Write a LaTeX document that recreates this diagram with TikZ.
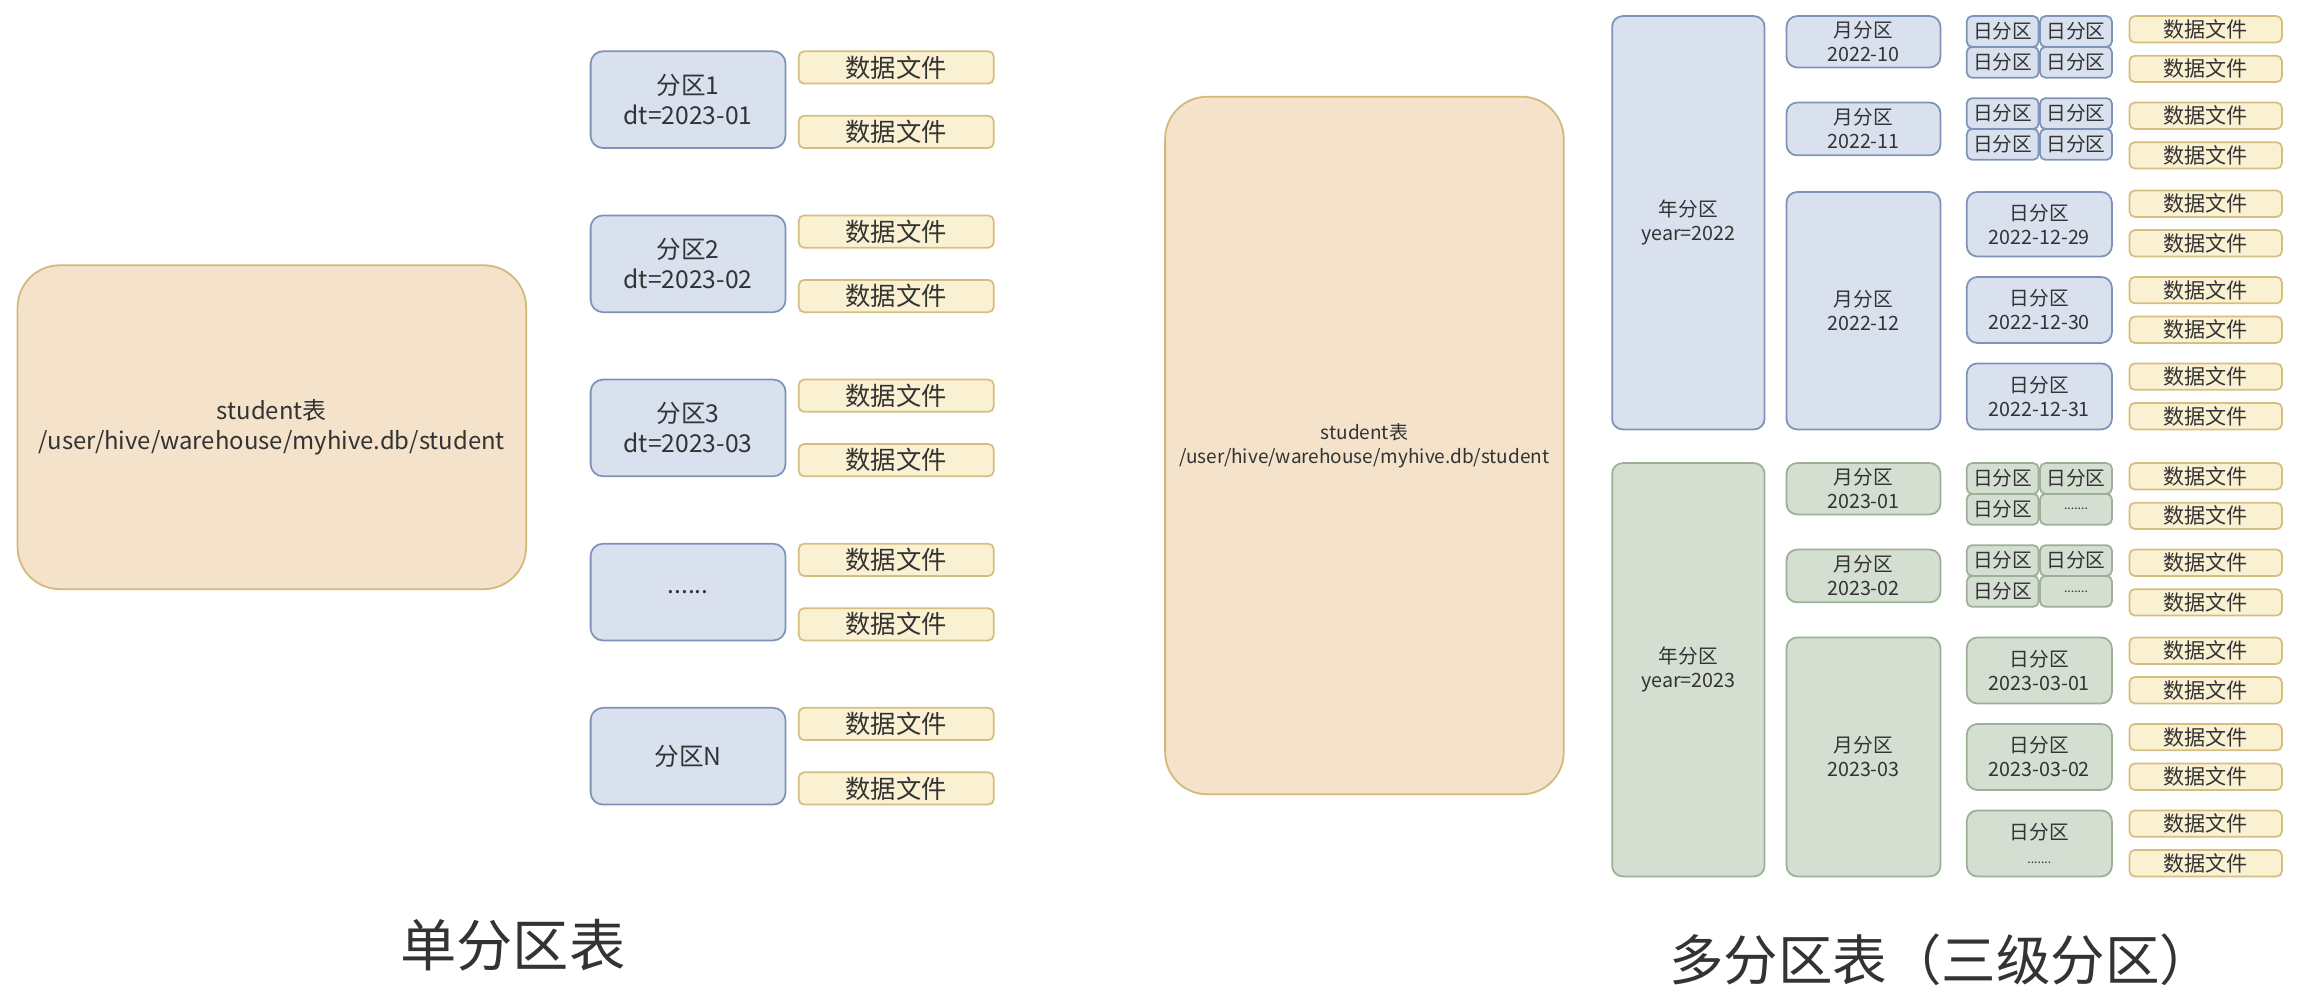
\documentclass[tikz,border=0pt]{standalone}
\usepackage{fontspec}
\setmainfont{Noto Sans CJK SC}
\usetikzlibrary{positioning}
\definecolor{blueFill}{HTML}{D9E1EF}
\definecolor{blueLine}{HTML}{7F93B8}
\definecolor{greenFill}{HTML}{D4DFD1}
\definecolor{greenLine}{HTML}{9CB098}
\definecolor{tableFill}{HTML}{F4E2CB}
\definecolor{tableLine}{HTML}{D3B978}
\definecolor{fileFill}{HTML}{FAF0D2}
\definecolor{fileLine}{HTML}{D6BE80}
\definecolor{textGray}{HTML}{333333}
\tikzset{
  box/.style={draw,line width=0.5pt,inner sep=0pt,outer sep=0pt,align=center,text=textGray},
  tablebox/.style={box,fill=tableFill,draw=tableLine,rounded corners=12pt},
  partbox/.style={box,fill=blueFill,draw=blueLine,rounded corners=3.5pt,font=\fontsize{7}{8.5}\selectfont},
  bluebox/.style={box,fill=blueFill,draw=blueLine,rounded corners=3pt,font=\fontsize{5.6}{6.8}\selectfont},
  greenbox/.style={box,fill=greenFill,draw=greenLine,rounded corners=3pt,font=\fontsize{5.6}{6.8}\selectfont},
  gridbox/.style={rounded corners=1.5pt},
  filebox/.style={box,fill=fileFill,draw=fileLine,rounded corners=1.5pt,font=\fontsize{7.2}{8}\selectfont},
  smallfile/.style={filebox,font=\fontsize{6}{7}\selectfont},
  title/.style={font=\fontsize{16}{18}\selectfont,text=textGray}
}
% name, style, x1, y1, x2, y2, text
\newcommand{\cell}[7]{%
  \pgfmathsetmacro\cw{(#5-#3)*0.014656}%
  \pgfmathsetmacro\ch{(#6-#4)*0.014656}%
  \node[#2,minimum width=\cw cm,minimum height=\ch cm] (#1) at ({(#3+#5)/2},{(#4+#6)/2}) {#7};}

\begin{document}
\begin{tikzpicture}[x=0.014656cm,y=-0.014656cm]
  \useasboundingbox (0,0) rectangle (1568,686);

  % single partition table
  \cell{tableL}{tablebox,font=\fontsize{6.8}{8.5}\selectfont}{12}{181}{359}{402}{student表\\/user/hive/warehouse/myhive.db/student}
  \foreach \i/\lab in {1/{分区1\\dt=2023-01},2/{分区2\\dt=2023-02},3/{分区3\\dt=2023-03},4/{......},5/{分区N}} {
    \pgfmathsetmacro\ty{35+112*(\i-1)}
    \pgfmathsetmacro\by{\ty+66}
    \pgfmathsetmacro\fy{\ty+22}
    \pgfmathsetmacro\gy{\ty+44}
    \cell{part\i}{partbox}{403}{\ty}{536}{\by}{\lab}
    \cell{file\i a}{filebox}{545}{\ty}{678}{\fy}{数据文件}
    \cell{file\i b}{filebox}{545}{\gy}{678}{\by}{数据文件}
  }
  \node[title] (titleL) at (350,645) {单分区表};

  % three level partition table
  \cell{tableR}{tablebox,font=\fontsize{5.4}{6.8}\selectfont}{795}{66}{1067}{542}{student表\\/user/hive/warehouse/myhive.db/student}
  \cell{y2022}{bluebox}{1100}{11}{1204}{293}{年分区\\year=2022}
  \cell{y2023}{greenbox}{1100}{316}{1204}{598}{年分区\\year=2023}

  \cell{m10}{bluebox}{1219}{11}{1324}{46}{月分区\\2022-10}
  \cell{m11}{bluebox}{1219}{70}{1324}{106}{月分区\\2022-11}
  \cell{m12}{bluebox}{1219}{131}{1324}{293}{月分区\\2022-12}
  \cell{m01}{greenbox}{1219}{316}{1324}{351}{月分区\\2023-01}
  \cell{m02}{greenbox}{1219}{375}{1324}{411}{月分区\\2023-02}
  \cell{m03}{greenbox}{1219}{435}{1324}{598}{月分区\\2023-03}

  % small day grids
  \foreach \g/\ty/\st in {10/11/bluebox,11/67/bluebox,01/316/greenbox,02/372/greenbox} {
    \pgfmathsetmacro\my{\ty+21}
    \pgfmathsetmacro\by{\ty+42}
    \cell{d\g a}{\st,gridbox}{1342}{\ty}{1391}{\my}{日分区}
    \cell{d\g b}{\st,gridbox}{1392}{\ty}{1441}{\my}{日分区}
    \cell{d\g c}{\st,gridbox}{1342}{\my}{1391}{\by}{日分区}
  }
  \cell{d10d}{bluebox,gridbox}{1392}{32}{1441}{53}{日分区}
  \cell{d11d}{bluebox,gridbox}{1392}{88}{1441}{109}{日分区}
  \cell{d01d}{greenbox,gridbox,font=\fontsize{3.5}{4}\selectfont}{1392}{337}{1441}{358}{.......}
  \cell{d02d}{greenbox,gridbox,font=\fontsize{3.5}{4}\selectfont}{1392}{393}{1441}{414}{.......}

  % large day boxes
  \cell{d29}{bluebox}{1342}{131}{1441}{175}{日分区\\2022-12-29}
  \cell{d30}{bluebox}{1342}{189}{1441}{234}{日分区\\2022-12-30}
  \cell{d31}{bluebox}{1342}{248}{1441}{293}{日分区\\2022-12-31}
  \cell{d0301}{greenbox}{1342}{435}{1441}{480}{日分区\\2023-03-01}
  \cell{d0302}{greenbox}{1342}{494}{1441}{539}{日分区\\2023-03-02}
  \cell{d03x}{greenbox}{1342}{553}{1441}{598}{日分区\\{\fontsize{3.5}{5}\selectfont .......}}

  % data files
  \foreach \ty [count=\k] in {11,70,130,189,248,316,375,435,494,553} {
    \pgfmathsetmacro\fy{\ty+18}
    \pgfmathsetmacro\sy{\ty+27}
    \pgfmathsetmacro\ey{\ty+45}
    \cell{rfile\k a}{smallfile}{1453}{\ty}{1557}{\fy}{数据文件}
    \cell{rfile\k b}{smallfile}{1453}{\sy}{1557}{\ey}{数据文件}
  }
  \node[title,font=\fontsize{15.5}{18}\selectfont] (titleR) at (1325,655) {多分区表（三级分区）};
\end{tikzpicture}
\end{document}
